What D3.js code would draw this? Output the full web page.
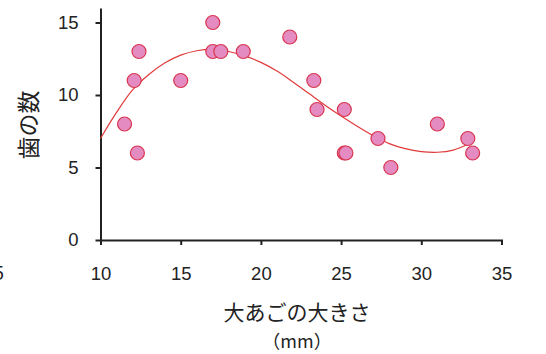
<!DOCTYPE html>
<html>
  <head>
    <meta charset="utf-8">
    <script src="https://cdnjs.cloudflare.com/ajax/libs/d3/7.8.5/d3.min.js"></script>
    <style>
      body { margin: 0; background: #fff; }
      svg { font-family: "Noto Sans CJK JP", "Noto Sans", sans-serif; }
      .axis path, .axis line { stroke: #222; stroke-width: 2; }
      .axis text { fill: #222; font-size: 18.5px; }
      circle.pt { fill: #e48cc1; stroke: #d8344e; stroke-width: 1.2; }
      path.trend { fill: none; stroke: #e03a3a; stroke-width: 1.2; }
    </style>
  </head>
  <body>
    <svg width="546" height="354"></svg>
    <script>
      // jaw size (mm) and tooth count
      var jawSize = [11.5, 12.1, 12.4, 12.3, 15.0, 17.0, 17.0, 17.5, 18.9, 21.8,
                     23.3, 23.5, 25.2, 25.2, 25.3, 27.3, 28.1, 31.0, 32.9, 33.2];
      var teeth   = [8, 11, 13, 6, 11, 15, 13, 13, 13, 14,
                     11, 9, 9, 6, 6, 7, 5, 8, 7, 6];
      // trend curve
      var trendX = [10, 11, 12, 13, 14, 15, 16, 17, 18, 19, 20, 21,
                    22, 23, 24, 25, 26, 27, 28, 29, 30, 31, 32, 33];
      var trendY = [7.0, 8.8, 10.35, 11.4, 12.2, 12.75, 13.05, 13.15, 13.0, 12.7, 12.25, 11.65,
                    10.9, 10.1, 9.3, 8.55, 7.85, 7.2, 6.65, 6.3, 6.1, 6.05, 6.2, 6.65];
      var xTicks = [10, 15, 20, 25, 30, 35];
      var yTicks = [0, 5, 10, 15];

      var svg = d3.select("svg");
      var x = d3.scaleLinear().domain([10, 35]).range([100.5, 501.5]);
      var y = d3.scaleLinear().domain([0, 16]).range([240, 8]);

      svg.append("g").attr("class", "axis")
        .attr("transform", "translate(0," + y(0) + ")")
        .call(d3.axisBottom(x).tickValues(xTicks).tickSize(5).tickSizeOuter(5).tickPadding(22));

      svg.append("g").attr("class", "axis")
        .attr("transform", "translate(" + x(10) + ",0)")
        .call(d3.axisLeft(y).tickValues(yTicks).tickSize(5).tickSizeOuter(0).tickPadding(17));

      svg.append("path").attr("class", "trend")
        .datum(trendX)
        .attr("d", d3.line().curve(d3.curveCatmullRom)
          .x(d => x(d)).y((d, i) => y(trendY[i])));

      svg.selectAll("circle.pt")
        .data(jawSize)
        .enter()
        .append("circle")
        .attr("class", "pt")
        .attr("cx", d => x(d))
        .attr("cy", (d, i) => y(teeth[i]))
        .attr("r", 7);

      // stray tick label from neighbouring chart
      svg.append("text").attr("x", 4).attr("y", 280).attr("text-anchor", "end")
        .attr("fill", "#222").style("font-size", "18.5px").text("5");

      svg.append("text").attr("transform", "translate(27,125) rotate(-90)")
        .attr("text-anchor", "middle").attr("dominant-baseline", "central")
        .attr("fill", "#222").style("font-size", "23px")
        .text("歯の数");

      svg.append("text").attr("x", 297).attr("y", 311)
        .attr("text-anchor", "middle").attr("dominant-baseline", "central")
        .attr("fill", "#222").style("font-size", "21px")
        .text("大あごの大きさ");
      svg.append("text").attr("x", 297).attr("y", 340)
        .attr("text-anchor", "middle").attr("dominant-baseline", "central")
        .attr("fill", "#222").style("font-size", "18px")
        .text("（mm）");
    </script>
  </body>
</html>
